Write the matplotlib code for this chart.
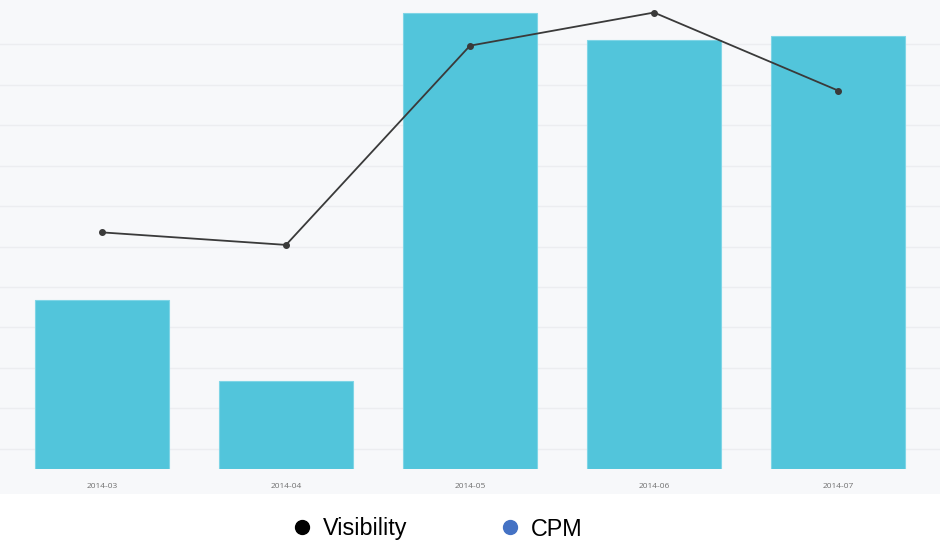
import matplotlib
matplotlib.use("Agg")
import matplotlib.pyplot as plt
from matplotlib.lines import Line2D
from matplotlib.transforms import blended_transform_factory

months = ["2014-03", "2014-04", "2014-05", "2014-06", "2014-07"]
cpm = [1.69, 0.88, 4.56, 4.29, 4.33]
visibility = [6.35, 6.04, 10.97, 11.79, 9.86]

W, H = 940, 557
fig = plt.figure(figsize=(W / 100, H / 100), dpi=100)
fig.patch.set_facecolor("white")

# grey chart background
bg = fig.add_axes([0, (H - 494) / H, 1, 494 / H], zorder=-10)
bg.set_facecolor("#f7f8fa")
bg.set_xticks([])
bg.set_yticks([])
for s in bg.spines.values():
    s.set_visible(False)

ax = fig.add_axes([10 / W, (H - 469) / H, 920 / W, 469 / H], zorder=1)
ax.patch.set_visible(False)
x = list(range(len(months)))
ax.bar(x, cpm, width=134 / 184, color="#52c5db", edgecolor="#7fd5e6", linewidth=0.8, zorder=2)
ax.set_xlim(-0.5, len(months) - 0.5)
ax.set_ylim(0, 4.69)
ax.set_xticks(x)
ax.set_xticklabels(months, fontsize=6, color="#707070", fontfamily="Open Sans")
ax.tick_params(axis="x", length=0, pad=10)
ax.set_yticks([])
for s in ax.spines.values():
    s.set_visible(False)

ax2 = ax.twinx()
ax2.patch.set_visible(False)
ax2.set_ylim(0.495, 12.10)
ax2.set_yticks([])
for s in ax2.spines.values():
    s.set_visible(False)
ax2.plot(x, visibility, color="#3a3a3a", linewidth=1.3, marker="o", markersize=4, zorder=5)

# horizontal grid (visibility scale) across the full chart width, beneath the bars
gtr = blended_transform_factory(bg.transAxes, ax2.transData)
for v in range(1, 12):
    bg.add_line(Line2D([0, 1], [v, v], transform=gtr, color="#ecedf0", linewidth=1.0))

handles = [Line2D([], [], linestyle="none", marker="o", markersize=10, color="black"),
           Line2D([], [], linestyle="none", marker="o", markersize=10, color="#4472c4")]
fig.legend(handles, ["Visibility", "CPM"], loc="center left",
           bbox_to_anchor=(283 / W, (H - 529) / H), ncol=2, frameon=False,
           prop={"family": "Liberation Sans", "size": 16.8}, borderpad=0,
           handlelength=0.6, handletextpad=0.6, columnspacing=4.1)

fig.savefig("out.png", dpi=100)
